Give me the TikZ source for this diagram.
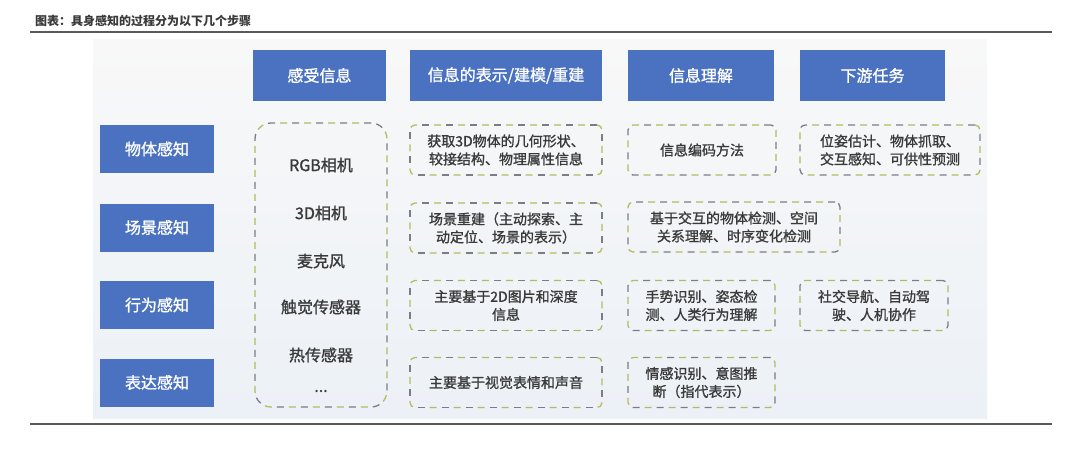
\documentclass[tikz,border=0pt]{standalone}
\usepackage{fontspec}
\setmainfont{Noto Sans CJK SC}
\newfontfamily\boxfont[FakeBold=1.2]{Noto Sans CJK SC}
\usetikzlibrary{positioning}
\definecolor{hdrblue}{HTML}{4A72C0}
\definecolor{txt}{HTML}{3A3A3A}
\definecolor{dgray}{HTML}{7A7D82}
\definecolor{dyel}{HTML}{B3BC5E}
\definecolor{bgtop}{HTML}{F8F8F8}
\definecolor{bgbot}{HTML}{ECF1F7}
\definecolor{rule}{HTML}{5A5A5A}
\tikzset{
  hdr/.style={fill=hdrblue, text=white, minimum height=51pt, inner sep=0pt,
    font=\boxfont\fontsize{16}{18}\selectfont},
  rowlab/.style={fill=hdrblue, text=white, minimum width=114pt, minimum height=48pt,
    inner sep=0pt, font=\boxfont\fontsize{16}{18}\selectfont},
  dbox/.style={draw=dgray, line width=1.3pt, dash pattern=on 7pt off 17pt,
    rounded corners=5pt, minimum height=50pt, inner sep=0pt, align=center,
    text=txt, font=\boxfont\fontsize{14}{18}\selectfont,
    postaction={draw=dyel, line width=1.3pt, dash pattern=on 7pt off 17pt, dash phase=12pt}},
  sens/.style={text=txt, font=\boxfont\fontsize{16}{18}\selectfont, inner sep=0pt}
}
\begin{document}
\begin{tikzpicture}[x=1pt,y=-1pt]
\fill[white] (0,0) rectangle (1080,459);
\useasboundingbox (0,0) rectangle (1080,459);
% background panel
\shade[top color=bgtop, bottom color=bgbot] (93,39) rectangle (987,418);
% title and rules
\node[anchor=west, text=txt, font=\fontsize{12}{14}\selectfont\bfseries, inner sep=0pt] (title) at (35,21) {图表：具身感知的过程分为以下几个步骤};
\coordinate (r1a) at (30,32); \coordinate (r1b) at (1052,32);
\coordinate (r2a) at (30,424); \coordinate (r2b) at (1052,424);
\draw[rule, line width=1.6pt] (r1a) -- (r1b);
\draw[rule, line width=1.6pt] (r2a) -- (r2b);
% headers
\node[hdr, minimum width=133pt] (h1) at (319.5,75.5) {感受信息};
\node[hdr, minimum width=192pt] (h2) at (506,75.5) {信息的表示/建模/重建};
\node[hdr, minimum width=146pt] (h3) at (701,75.5) {信息理解};
\node[hdr, minimum width=145pt] (h4) at (872.5,75.5) {下游任务};
% row labels
\node[rowlab] (l1) at (157,149) {物体感知};
\node[rowlab] (l2) at (157,227.5) {场景感知};
\node[rowlab] (l3) at (157,305) {行为感知};
\node[rowlab] (l4) at (157,382.5) {表达感知};
% sensors
\node[dbox, rounded corners=16pt, minimum width=132pt, minimum height=284pt] (sbox) at (321,265) {};
\node[sens] (s1) at (321,165) {RGB相机};
\node[sens] (s2) at (321,213) {3D相机};
\node[sens] (s3) at (321,261) {麦克风};
\node[sens] (s4) at (321,307) {触觉传感器};
\node[sens] (s5) at (321,355) {热传感器};
\node[sens] (s6) at (321,391) {...};
% column 2
\node[dbox, minimum width=192pt] (c21) at (506,150) {获取3D物体的几何形状、\\较接结构、物理属性信息};
\node[dbox, minimum width=192pt] (c22) at (506,228) {场景重建（主动探索、主\\动定位、场景的表示）};
\node[dbox, minimum width=192pt] (c23) at (506,305.5) {主要基于2D图片和深度\\信息};
\node[dbox, minimum width=192pt] (c24) at (506,382.5) {主要基于视觉表情和声音};
% column 3
\node[dbox, minimum width=148pt] (c31) at (702,150) {信息编码方法};
\node[dbox, minimum width=212pt] (c32) at (734,227) {基于交互的物体检测、空间\\关系理解、时序变化检测};
\node[dbox, minimum width=147pt] (c33) at (701.5,305.5) {手势识别、姿态检\\测、人类行为理解};
\node[dbox, minimum width=147pt] (c34) at (701.5,382.5) {情感识别、意图推\\断（指代表示）};
% column 4
\node[dbox, minimum width=180pt] (c41) at (890,150) {位姿估计、物体抓取、\\交互感知、可供性预测};
\node[dbox, minimum width=148pt] (c43) at (874,305.5) {社交导航、自动驾\\驶、人机协作};
\end{tikzpicture}
\end{document}
